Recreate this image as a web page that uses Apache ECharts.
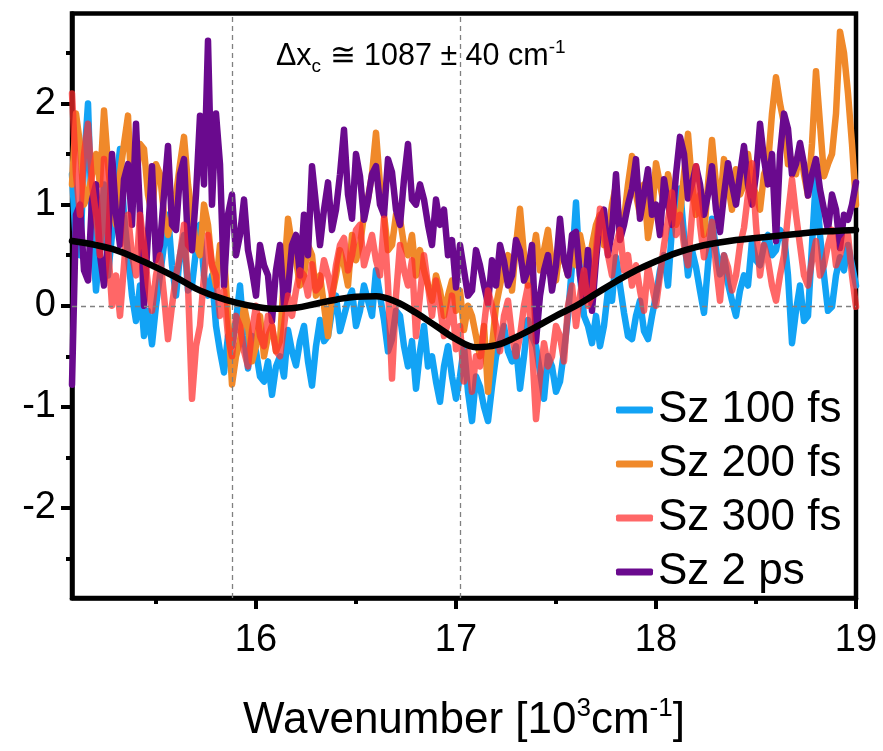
<!DOCTYPE html>
<html><head><meta charset="utf-8">
<script src="https://cdn.jsdelivr.net/npm/echarts@6/dist/echarts.min.js"></script>
<style>html,body{margin:0;padding:0;background:#fff;}#c{width:883px;height:751px;}</style>
</head><body><div id="c"></div>
<script>
// x grid (10^3 cm^-1)
const wavenumber = [
15.08,15.10,15.12,15.14,15.16,15.18,15.20,15.22,15.24,15.26,
15.28,15.30,15.32,15.34,15.36,15.38,15.40,15.42,15.44,15.46,
15.48,15.50,15.52,15.54,15.56,15.58,15.60,15.62,15.64,15.66,
15.68,15.70,15.72,15.74,15.76,15.78,15.80,15.82,15.84,15.86,
15.88,15.90,15.92,15.94,15.96,15.98,16.00,16.02,16.04,16.06,
16.08,16.10,16.12,16.14,16.16,16.18,16.20,16.22,16.24,16.26,
16.28,16.30,16.32,16.34,16.36,16.38,16.40,16.42,16.44,16.46,
16.48,16.50,16.52,16.54,16.56,16.58,16.60,16.62,16.64,16.66,
16.68,16.70,16.72,16.74,16.76,16.78,16.80,16.82,16.84,16.86,
16.88,16.90,16.92,16.94,16.96,16.98,17.00,17.02,17.04,17.06,
17.08,17.10,17.12,17.14,17.16,17.18,17.20,17.22,17.24,17.26,
17.28,17.30,17.32,17.34,17.36,17.38,17.40,17.42,17.44,17.46,
17.48,17.50,17.52,17.54,17.56,17.58,17.60,17.62,17.64,17.66,
17.68,17.70,17.72,17.74,17.76,17.78,17.80,17.82,17.84,17.86,
17.88,17.90,17.92,17.94,17.96,17.98,18.00,18.02,18.04,18.06,
18.08,18.10,18.12,18.14,18.16,18.18,18.20,18.22,18.24,18.26,
18.28,18.30,18.32,18.34,18.36,18.38,18.40,18.42,18.44,18.46,
18.48,18.50,18.52,18.54,18.56,18.58,18.60,18.62,18.64,18.66,
18.68,18.70,18.72,18.74,18.76,18.78,18.80,18.82,18.84,18.86,
18.88,18.90,18.92,18.94,18.96,18.98,19.00];

const sz100fs = [
1.3,0.6,0.5,1.4,2.0,0.8,0.15,0.6,1.2,0.3,
0.7,1.2,1.55,0.9,0.5,0.1,-0.15,0.2,-0.3,-0.05,
-0.38,0.0,0.3,0.6,0.9,0.4,0.1,0.5,0.7,0.15,
0.2,0.55,0.8,0.3,0.1,0.3,-0.2,-0.45,-0.66,-0.3,
-0.4,-0.15,0.2,-0.3,-0.62,-0.3,-0.45,-0.7,-0.75,-0.55,
-0.88,-0.6,-0.5,-0.7,-0.24,-0.45,-0.59,-0.35,-0.2,-0.55,
-0.79,-0.4,-0.14,-0.35,-0.3,-0.05,0.1,-0.25,-0.1,0.05,
0.15,-0.2,-0.05,0.2,0.05,-0.1,0.35,0.1,-0.14,-0.45,
-0.33,-0.05,-0.1,-0.4,-0.6,-0.35,-0.82,-0.45,-0.2,-0.6,
-0.5,-0.75,-0.95,-0.6,-0.4,-0.7,-0.92,-0.7,-0.4,-0.85,
-1.14,-0.7,-0.8,-1.0,-1.14,-0.8,-0.5,-0.35,-0.2,-0.45,
-0.55,-0.4,-0.82,-0.5,-0.14,-0.3,-0.4,-0.65,-0.92,-0.5,
-0.6,-0.85,-0.75,-0.45,-0.1,0.4,1.02,0.3,-0.1,-0.2,
-0.37,-0.1,-0.4,-0.2,0.15,0.05,0.48,0.2,-0.07,-0.3,
-0.33,-0.1,0.05,-0.25,-0.33,-0.1,0.1,0.35,0.5,0.2,
0.77,0.9,1.16,0.7,0.3,0.55,0.38,0.15,-0.07,0.4,
0.86,0.55,0.31,0.5,0.22,0.05,-0.1,0.15,0.3,0.2,
0.64,0.45,0.4,0.6,0.7,0.5,0.55,0.75,0.7,0.3,
-0.37,-0.05,0.2,-0.15,-0.1,0.6,1.28,0.7,0.3,-0.05,
-0.01,0.3,0.48,0.35,0.6,0.4,0.2];

const sz200fs = [
1.2,1.9,1.6,1.0,1.1,1.3,1.5,1.2,1.93,1.4,
1.0,0.8,1.3,1.6,1.88,1.0,1.2,1.6,1.55,1.1,
0.9,1.4,1.3,0.9,0.7,0.9,1.1,1.4,1.67,1.2,
0.9,0.6,0.5,1.0,0.8,0.4,0.2,0.6,0.5,-0.1,
-0.78,-0.5,-0.35,0.0,-0.2,-0.55,-0.4,-0.1,-0.5,-0.3,
-0.2,-0.45,-0.35,0.3,0.86,0.6,0.45,0.2,0.3,0.6,
0.5,0.1,0.3,0.0,-0.3,0.1,0.3,0.55,0.4,0.2,
0.7,0.45,0.6,0.9,1.06,1.3,1.71,1.2,0.9,0.55,
0.6,0.9,0.86,0.6,0.5,0.7,0.3,0.55,0.35,0.2,
0.05,0.3,0.15,-0.1,0.1,0.25,-0.05,0.15,-0.24,0.0,
-0.1,-0.3,-0.5,-0.2,-0.85,-0.4,0.0,0.2,0.4,0.5,
0.15,0.6,0.96,0.5,0.2,0.45,0.7,0.35,0.55,0.75,
0.4,0.25,0.6,0.45,0.3,0.55,0.4,0.7,0.5,0.3,
0.6,0.8,0.9,0.6,0.7,1.0,1.19,0.7,0.86,1.2,
1.48,1.1,0.9,1.2,0.67,0.9,1.41,1.2,1.0,1.3,
1.1,0.8,0.9,1.3,1.7,1.2,0.9,1.1,0.7,1.2,
1.64,1.2,1.0,1.45,1.2,0.95,1.35,1.1,1.2,1.5,
1.2,1.1,0.95,1.3,1.4,1.9,2.26,2.0,1.8,1.4,
1.45,1.3,1.57,1.3,1.09,1.6,2.32,1.8,1.28,1.4,
1.5,1.9,2.71,2.5,2.1,1.6,1.0];

const sz300fs = [
2.1,1.3,0.9,1.5,1.8,1.2,0.9,0.5,1.45,0.6,
0.0,0.3,-0.1,0.4,0.9,0.5,0.3,0.9,0.6,0.2,
-0.05,0.3,0.5,0.1,-0.33,0.0,0.3,0.5,0.8,0.2,
-0.92,-0.4,-0.2,0.3,0.7,0.4,0.3,-0.1,0.15,-0.3,
-0.5,-0.1,-0.2,-0.45,-0.6,-0.25,0.0,-0.3,-0.4,-0.1,
-0.2,-0.45,-0.5,-0.2,0.1,-0.1,0.15,0.35,0.3,0.1,
0.41,0.15,0.2,0.45,0.3,0.1,0.4,0.6,0.67,0.35,
0.5,0.75,0.8,0.4,0.55,0.7,0.45,0.3,0.86,0.2,
-0.72,0.1,0.6,0.35,0.2,0.45,-0.3,0.1,0.5,0.2,
-0.1,0.25,0.0,-0.3,-0.17,0.1,-0.43,-0.2,-0.75,-0.45,
-0.85,-0.5,-0.6,-0.2,0.15,0.0,-0.2,-0.45,-0.1,0.05,
-0.3,-0.5,-0.3,0.0,0.2,-0.4,-1.12,-0.7,-0.37,-0.6,
-0.5,-0.2,-0.3,-0.55,0.0,0.2,-0.2,0.1,0.35,0.0,
0.1,0.55,0.96,0.7,0.5,0.3,0.6,0.75,0.35,0.5,
0.2,0.4,0.15,-0.05,0.4,0.2,0.0,0.3,0.6,0.85,
1.12,0.7,0.9,0.6,0.4,0.9,1.38,0.8,0.48,0.65,
0.83,0.4,0.05,0.5,0.38,0.15,0.3,0.6,0.77,1.1,
1.41,0.8,0.3,0.6,0.45,0.2,0.05,0.3,0.5,0.9,
1.25,0.9,0.6,0.3,0.2,0.45,0.64,0.3,0.4,0.6,
0.75,0.4,0.5,0.65,0.7,0.3,-0.01];

const sz2ps = [
-0.78,0.9,1.0,0.35,0.25,1.05,1.2,0.5,0.2,0.6,
1.5,0.9,0.6,1.25,1.4,0.8,1.8,0.9,0.0,0.7,
1.38,0.45,0.6,1.1,1.58,0.8,0.75,1.3,1.45,0.6,
0.55,1.1,1.88,1.2,2.62,1.0,1.9,1.4,0.2,0.9,
1.1,0.5,0.7,1.05,0.55,0.35,0.1,0.6,0.4,0.3,
-0.15,0.35,0.6,0.0,0.15,0.6,0.7,0.3,0.9,0.5,
1.38,1.0,0.6,0.95,1.22,0.75,0.95,1.3,1.74,1.1,
0.86,1.5,1.28,0.85,1.05,1.3,1.38,1.0,0.9,1.45,
1.32,0.95,0.8,1.25,1.6,1.05,1.0,1.2,1.05,0.8,
0.6,1.05,0.8,0.95,0.5,0.65,0.18,0.6,0.35,0.1,
0.15,0.55,0.4,0.2,0.02,0.45,0.2,0.6,0.44,0.2,
0.3,0.65,0.54,0.25,0.35,0.6,-0.35,0.1,0.35,0.5,
0.15,0.4,0.86,0.45,0.3,0.7,0.73,0.3,0.05,0.55,
-0.05,0.45,0.86,0.95,0.5,0.75,1.3,0.65,0.8,1.0,
1.16,1.45,0.86,1.1,1.35,0.9,1.0,0.7,1.25,1.0,
0.8,1.3,1.67,1.5,1.06,1.2,1.38,1.2,0.9,1.1,
1.38,0.95,0.73,1.1,1.41,1.2,1.0,1.3,1.58,1.2,
1.0,1.3,1.8,1.45,1.2,1.5,0.64,1.5,1.9,1.75,
1.3,1.4,1.61,1.4,1.09,1.3,1.45,1.15,0.95,0.75,
1.1,0.95,0.57,0.9,0.85,1.0,1.22];

// fitted curve
const fitX = [15.08,15.2,15.3,15.4,15.5,15.6,15.7,15.8,15.9,16.0,16.1,16.2,16.3,16.4,16.5,16.6,16.7,16.8,16.9,17.0,
              17.1,17.2,17.3,17.4,17.5,17.6,17.7,17.8,17.9,18.0,18.1,18.2,18.3,18.4,18.5,18.6,18.7,18.8,18.9,19.0];
const fitY = [0.64,0.60,0.55,0.47,0.38,0.28,0.17,0.09,0.03,-0.01,-0.03,-0.02,0.02,0.06,0.09,0.095,0.04,-0.07,-0.2,-0.33,
              -0.41,-0.39,-0.31,-0.21,-0.1,0.0,0.12,0.24,0.35,0.44,0.52,0.58,0.62,0.65,0.67,0.69,0.71,0.73,0.74,0.75];

const seriesNames = ['Sz 100 fs','Sz 200 fs','Sz 300 fs','Sz 2 ps'];
const xTickValues = [16,17,18,19];
const xMinorValues = [15.5,16.5,17.5,18.5];
const yTickValues = [-2,-1,0,1,2];
const yMinorValues = [-2.5,-1.5,-0.5,0.5,1.5,2.5];
const guideX = [15.885, 17.02];
const guideY = [0];
const xRange = [15.08, 19];
const yRange = [-2.89, 2.89];

[sz100fs, sz200fs, sz300fs, sz2ps].forEach((s, k) => {
  if (s.length !== wavenumber.length) throw new Error('length mismatch in series ' + k + ': ' + s.length + ' vs ' + wavenumber.length);
});

const FONT = '"Liberation Sans", Arial, sans-serif';
const colors = {
  'Sz 100 fs': '#12a3f5',
  'Sz 200 fs': '#f0892a',
  'Sz 300 fs': 'rgba(255,45,45,0.72)',
  'Sz 2 ps': '#6a0a8e'
};
const pairs = (xs, ys) => xs.map((x, i) => [x, ys[i]]);

const chart = echarts.init(document.getElementById('c'), null, {renderer: 'canvas'});

function dataSeries(name, ys) {
  return {
    name, type: 'line', data: pairs(wavenumber, ys),
    showSymbol: false, symbol: 'none', animation: false,
    color: colors[name],
    lineStyle: {color: colors[name], width: 6.5, cap: 'round', join: 'round'},
    clip: true
  };
}

const option = {
  animation: false,
  backgroundColor: '#fff',
  grid: {left: 72, right: 27, top: 13.5, bottom: 145, show: true, borderColor: '#000', borderWidth: 4.5, backgroundColor: 'transparent'},
  legend: {
    data: seriesNames, orient: 'vertical', left: 611, top: 383,
    icon: 'roundRect', itemWidth: 37, itemHeight: 7, itemGap: 10,
    textStyle: {fontSize: 44, lineHeight: 44, fontFamily: FONT, color: '#000'}
  },
  xAxis: [{
    type: 'value', min: xRange[0], max: xRange[1], position: 'bottom',
    axisLine: {show: true, onZero: false, lineStyle: {color: '#000', width: 4.5}},
    axisTick: {show: true, customValues: xTickValues, length: 11, lineStyle: {color: '#000', width: 4}},
    axisLabel: {show: true, customValues: xTickValues, fontSize: 38, fontFamily: FONT, color: '#000', margin: 24},
    splitLine: {show: false},
    name: 'Wavenumber [10{sup|3}cm{sup|-1}]', nameLocation: 'middle', nameGap: 98,
    nameTextStyle: {fontSize: 44, fontFamily: FONT, color: '#000', lineHeight: 50,
      rich: {sup: {fontSize: 26, fontFamily: FONT, color: '#000', verticalAlign: 'top', lineHeight: 24}}}
  }, {
    type: 'value', min: xRange[0], max: xRange[1], position: 'bottom',
    axisLine: {show: false, onZero: false}, axisLabel: {show: false}, splitLine: {show: false},
    axisTick: {show: true, customValues: xMinorValues, length: 6, lineStyle: {color: '#000', width: 4}}
  }],
  yAxis: [{
    type: 'value', min: yRange[0], max: yRange[1], position: 'left',
    axisLine: {show: true, onZero: false, lineStyle: {color: '#000', width: 4.5}},
    axisTick: {show: true, customValues: yTickValues, length: 11, lineStyle: {color: '#000', width: 4}},
    axisLabel: {show: true, customValues: yTickValues, fontSize: 38, fontFamily: FONT, color: '#000', margin: 16},
    splitLine: {show: false}
  }, {
    type: 'value', min: yRange[0], max: yRange[1], position: 'left',
    axisLine: {show: false, onZero: false}, axisLabel: {show: false}, splitLine: {show: false},
    axisTick: {show: true, customValues: yMinorValues, length: 6, lineStyle: {color: '#000', width: 4}}
  }],
  graphic: [{
    type: 'text', left: 276, top: 38, z: 100,
    style: {
      text: '{n|\u0394x}{sub|c}{n| \u2245 1087 \u00b1 40 cm}{sup|-1}',
      rich: {
        n: {fontSize: 30.5, fontFamily: FONT, fill: '#000', lineHeight: 38, verticalAlign: 'middle'},
        sub: {fontSize: 19, fontFamily: FONT, fill: '#000', lineHeight: 16, verticalAlign: 'bottom'},
        sup: {fontSize: 19, fontFamily: FONT, fill: '#000', lineHeight: 16, verticalAlign: 'top'}
      }
    }
  }],
  series: [
    {
      name: 'guides', type: 'line', data: [], silent: true, z: 1,
      markLine: {
        silent: true, symbol: ['none', 'none'], animation: false,
        label: {show: false},
        lineStyle: {color: '#808080', type: [5, 4], width: 1.3},
        data: guideX.map(x => ({xAxis: x})).concat(guideY.map(y => ({yAxis: y})))
      }
    },
    dataSeries('Sz 100 fs', sz100fs),
    dataSeries('Sz 200 fs', sz200fs),
    dataSeries('Sz 2 ps', sz2ps),
    dataSeries('Sz 300 fs', sz300fs),
    {
      name: 'fit', type: 'line', data: pairs(fitX, fitY), showSymbol: false, symbol: 'none',
      smooth: 0.4, color: '#000', lineStyle: {color: '#000', width: 6.5, cap: 'round'}, z: 5
    }
  ]
};
chart.setOption(option);
</script>
</body></html>
